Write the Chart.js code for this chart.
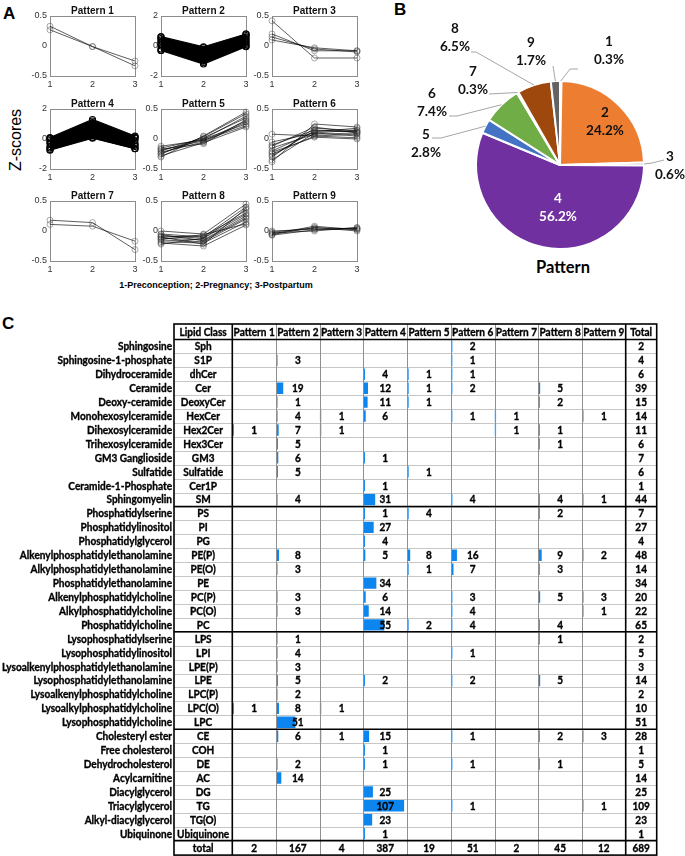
<!DOCTYPE html>
<html>
<head>
<meta charset="utf-8">
<title>Lipid class patterns</title>
<script src="https://cdn.jsdelivr.net/npm/chart.js@4.4.1/dist/chart.umd.min.js"></script>
<style>
  html, body { margin: 0; padding: 0; background: #fff; }
  body { position: relative; width: 685px; height: 856px; overflow: hidden; font-family: "Liberation Sans", Arial, sans-serif; color: #000; }
  canvas { position: absolute; }
  .tag { position: absolute; font-weight: bold; font-size: 17px; line-height: 1; }
  .mid { position: absolute; transform: translate(-50%, -50%); white-space: nowrap; line-height: 1; }
</style>
</head>
<body>
<div class="tag" style="left:3px;top:5px">A</div>
<div class="tag" style="left:394px;top:1px">B</div>
<div class="tag" style="left:2px;top:315px">C</div>
<div class="mid" style="left:16px;top:140px;font-size:16px;transform:translate(-50%,-50%) rotate(-90deg)">Z-scores</div>
<div class="mid" style="left:216px;top:285px;font-size:9px;font-weight:bold">1-Preconception; 2-Pregnancy; 3-Postpartum</div>
<div class="mid" style="left:563px;top:267px;font-family:Lato;font-weight:bold;font-size:16.5px">Pattern</div>
<canvas id="pie" width="345" height="300" style="left:340px;top:0"></canvas>
<canvas id="table" width="685" height="556" style="left:0;top:300px"></canvas>
<script>
// ---- panel A: z-score trajectories ----
const stageTicks = ['1', '2', '3'];
const patternNames = ['Pattern 1', 'Pattern 2', 'Pattern 3', 'Pattern 4', 'Pattern 5',
  'Pattern 6', 'Pattern 7', 'Pattern 8', 'Pattern 9'];
const zLimits = [0.5, 2, 0.5, 2, 0.5, 0.5, 0.5, 0.5, 0.5];

const pattern1 = [[0.33, -0.01, -0.33], [0.27, -0.01, -0.25]];
const pattern2 = [[0.5, -0.2, 0.6], [0.3, -0.5, 0.4], [0.1, -0.8, 0.2], [-0.2, -1.1, 0.0],
  [0.6, -0.3, 0.8], [0.0, -0.6, 0.5], [-0.3, -0.9, 0.1], [0.2, -0.1, 0.3], [0.4, -0.7, 0.7]];
const pattern2Upper = [0.62, -0.05, 0.8];
const pattern2Lower = [-0.3, -1.2, -0.05];
const pattern3 = [[0.42, -0.2, -0.2], [0.2, -0.08, -0.08], [0.15, -0.05, -0.1], [0.1, -0.03, -0.08]];
const pattern4 = [[0.05, 1.2, 0.1], [-0.2, 0.8, -0.1], [-0.5, 0.4, -0.4], [-0.7, 0.1, -0.65],
  [-0.3, 0.6, 0.15], [0.0, 0.3, -0.3], [-0.6, 1.0, -0.5], [-0.1, 0.2, 0.05]];
const pattern4Upper = [0.1, 1.3, 0.2];
const pattern4Lower = [-0.75, 0.05, -0.65];
const pattern5 = [[-0.12, -0.02, 0.22], [-0.15, 0.0, 0.25], [-0.18, -0.03, 0.3], [-0.2, 0.02, 0.35],
  [-0.22, -0.05, 0.28], [-0.25, 0.04, 0.42], [-0.28, -0.06, 0.2], [-0.3, 0.05, 0.45],
  [-0.17, -0.08, 0.32], [-0.24, 0.0, 0.38]];
const pattern6 = [[-0.05, 0.1, 0.15], [-0.1, 0.15, 0.12], [-0.15, 0.08, 0.1], [-0.2, 0.12, 0.18],
  [-0.25, 0.05, 0.08], [-0.3, 0.18, 0.14], [-0.35, 0.1, 0.05], [-0.38, 0.25, 0.2],
  [0.08, 0.05, 0.02], [-0.12, 0.2, 0.1], [-0.22, 0.03, 0.0], [-0.28, 0.14, 0.12]];
const pattern7 = [[0.18, 0.14, -0.31], [0.11, 0.08, -0.17]];
const pattern8 = [[0.0, -0.05, 0.45], [-0.05, -0.1, 0.4], [-0.08, -0.12, 0.35], [-0.1, -0.08, 0.3],
  [-0.12, -0.15, 0.25], [-0.15, -0.18, 0.2], [-0.18, -0.2, 0.15], [-0.2, -0.25, 0.1],
  [-0.22, -0.12, 0.28], [-0.1, -0.22, 0.38], [-0.14, -0.06, 0.12], [-0.06, -0.16, 0.22]];
const pattern9 = [[-0.02, 0.05, 0.04], [-0.05, 0.08, 0.02], [-0.07, 0.02, 0.05],
  [-0.03, 0.0, 0.06], [-0.06, 0.06, 0.0], [0.0, 0.03, 0.03]];

// ---- panel B / C: number of lipid species per pattern ----
const patternTotals = [2, 167, 4, 387, 19, 51, 2, 45, 12];
const pieKeys = ['1', '2', '3', '4', '5', '6', '7', '8', '9'];
const pieColors = ['#5B9BD5', '#ED7D31', '#A5A5A5', '#7030A0', '#4472C4', '#70AD47', '#264478', '#9E480E', '#636363'];

const lipidNames = ['Sphingosine', 'Sphingosine-1-phosphate', 'Dihydroceramide', 'Ceramide',
  'Deoxy-ceramide', 'Monohexosylceramide', 'Dihexosylceramide', 'Trihexosylceramide',
  'GM3 Ganglioside', 'Sulfatide', 'Ceramide-1-Phosphate', 'Sphingomyelin',
  'Phosphatidylserine', 'Phosphatidylinositol', 'Phosphatidylglycerol',
  'Alkenylphosphatidylethanolamine', 'Alkylphosphatidylethanolamine', 'Phosphatidylethanolamine',
  'Alkenylphosphatidylcholine', 'Alkylphosphatidylcholine', 'Phosphatidylcholine',
  'Lysophosphatidylserine', 'Lysophosphatidylinositol', 'Lysoalkenylphosphatidylethanolamine',
  'Lysophosphatidylethanolamine', 'Lysoalkenylphosphatidylcholine', 'Lysoalkylphosphatidylcholine',
  'Lysophosphatidylcholine', 'Cholesteryl ester', 'Free cholesterol', 'Dehydrocholesterol',
  'Acylcarnitine', 'Diacylglycerol', 'Triacylglycerol', 'Alkyl-diacylglycerol', 'Ubiquinone'];
const lipidAbbr = ['Sph', 'S1P', 'dhCer', 'Cer', 'DeoxyCer', 'HexCer', 'Hex2Cer', 'Hex3Cer',
  'GM3', 'Sulfatide', 'Cer1P', 'SM', 'PS', 'PI', 'PG', 'PE(P)', 'PE(O)', 'PE', 'PC(P)', 'PC(O)',
  'PC', 'LPS', 'LPI', 'LPE(P)', 'LPE', 'LPC(P)', 'LPC(O)', 'LPC', 'CE', 'COH', 'DE', 'AC', 'DG',
  'TG', 'TG(O)', 'Ubiquinone'];

const _ = null;
const countsP1 = [_,_,_,_,_,_,1,_,_,_,_,_,  _,_,_,_,_,_,_,_,_,  _,_,_,_,_,1,_,   _,_,_,_,_,_,_,_];
const countsP2 = [_,3,_,19,1,4,7,5,6,5,_,4, _,_,_,8,3,_,3,3,_,  1,4,3,5,2,8,51,  6,_,2,14,_,_,_,_];
const countsP3 = [_,_,_,_,_,1,1,_,_,_,_,_,  _,_,_,_,_,_,_,_,_,  _,_,_,_,_,1,_,   1,_,_,_,_,_,_,_];
const countsP4 = [_,_,4,12,11,6,_,_,1,_,1,31, 1,27,4,5,_,34,6,14,55, _,_,_,2,_,_,_, 15,1,1,_,25,107,23,1];
const countsP5 = [_,_,1,1,1,_,_,_,_,1,_,_,  4,_,_,8,1,_,_,_,2,  _,_,_,_,_,_,_,   _,_,_,_,_,_,_,_];
const countsP6 = [2,1,1,2,_,1,_,_,_,_,_,4,  _,_,_,16,7,_,3,4,4, _,1,_,2,_,_,_,   1,_,1,_,_,1,_,_];
const countsP7 = [_,_,_,_,_,1,1,_,_,_,_,_,  _,_,_,_,_,_,_,_,_,  _,_,_,_,_,_,_,   _,_,_,_,_,_,_,_];
const countsP8 = [_,_,_,5,2,_,1,1,_,_,_,4,  2,_,_,9,3,_,5,_,4,  1,_,_,5,_,_,_,   2,_,1,_,_,_,_,_];
const countsP9 = [_,_,_,_,_,1,_,_,_,_,_,1,  _,_,_,2,_,_,3,1,_,  _,_,_,_,_,_,_,   3,_,_,_,_,1,_,_];
const lipidTotals = [2,4,6,39,15,14,11,6,7,6,1,44, 7,27,4,48,14,34,20,22,65, 2,5,3,14,2,10,51, 28,1,5,14,25,109,23,1];

const panelLines = [pattern1, pattern2, pattern3, pattern4, pattern5, pattern6, pattern7, pattern8, pattern9];
const panelBands = [null, [pattern2Upper, pattern2Lower], null, [pattern4Upper, pattern4Lower], null, null, null, null, null];
const patternCounts = [countsP1, countsP2, countsP3, countsP4, countsP5, countsP6, countsP7, countsP8, countsP9];

Chart.defaults.font.family = '"Liberation Sans", Arial, sans-serif';
Chart.defaults.animation = false;

// ---------- panel A ----------
const plotLefts = [50, 161, 272];
const plotTops = [16, 109, 201];

const matlabBox = {
  id: 'matlabBox',
  beforeDatasetsDraw(chart) {
    const {ctx, chartArea: a} = chart;
    ctx.save();
    ctx.strokeStyle = '#8c8c8c';
    ctx.lineWidth = 1;
    ctx.strokeRect(Math.round(a.left) + 0.5, Math.round(a.top) + 0.5, Math.round(a.width), Math.round(a.height));
    ctx.restore();
  },
  afterDraw(chart, args, opts) {
    const {ctx, chartArea: a} = chart;
    ctx.save();
    ctx.font = 'bold 10px "Liberation Sans"';
    ctx.fillStyle = '#111';
    ctx.textAlign = 'center';
    ctx.fillText(opts.title, (a.left + a.right) / 2, a.top - 2.5);
    ctx.restore();
  }
};

function lineSet(values, dark) {
  return {
    data: values,
    borderColor: dark ? '#000' : 'rgba(0,0,0,0.8)',
    borderWidth: dark ? 1.2 : 0.8,
    pointRadius: 3,
    pointBorderWidth: dark ? 1.2 : 0.8,
    pointBorderColor: dark ? '#000' : 'rgba(60,60,60,0.55)',
    pointBackgroundColor: 'rgba(0,0,0,0)',
    fill: false,
    clip: false,
    tension: 0
  };
}

panelLines.forEach((lines, k) => {
  const cv = document.createElement('canvas');
  cv.width = 133;
  cv.height = 96;
  cv.style.left = (plotLefts[k % 3] - 40) + 'px';
  cv.style.top = (plotTops[Math.floor(k / 3)] - 16) + 'px';
  document.body.appendChild(cv);

  const band = panelBands[k];
  const sets = [];
  if (band) {
    sets.push(lineSet(band[0], true));
    sets.push(Object.assign(lineSet(band[1], true), {fill: '-1', backgroundColor: '#000'}));
  }
  lines.forEach(v => sets.push(lineSet(v, !!band)));

  const lim = zLimits[k];
  new Chart(cv, {
    type: 'line',
    data: {labels: stageTicks, datasets: sets},
    options: {
      responsive: false,
      layout: {padding: {top: 16, right: 8, left: 0, bottom: 0}},
      plugins: {legend: {display: false}, tooltip: {enabled: false}, matlabBox: {title: patternNames[k]}},
      scales: {
        x: {
          type: 'category', offset: false,
          grid: {display: false, drawTicks: false}, border: {display: false},
          ticks: {font: {size: 9}, color: '#333', padding: 3, maxRotation: 0, autoSkip: false},
          afterFit: s => { s.height = 20; }
        },
        y: {
          min: -lim, max: lim,
          grid: {display: false, drawTicks: false}, border: {display: false},
          ticks: {stepSize: lim, font: {size: 9}, color: '#333', padding: 3},
          afterFit: s => { s.width = 40; }
        }
      }
    },
    plugins: [matlabBox]
  });
});

// ---------- panel B ----------
const PIE_LEFT = 340, PIE_TOP = 0;
const pieLabelAt = [[609, 42], [605, 113], [670, 157], [558, 199], [426, 135], [432, 94], [473, 72], [455, 29], [531, 43]];
const pieLeaderVia = [[[570, 69], [578, 69]], null, [[652, 163], [664, 160]], null,
  [[441, 138], [432, 138]], [[457, 116], [449, 116]], [[489, 94]], [[476, 52], [471, 52]], [[553, 66]]];

const pieLabels = {
  id: 'pieLabels',
  afterDatasetsDraw(chart) {
    const ctx = chart.ctx;
    const arcs = chart.getDatasetMeta(0).data;
    const sum = patternTotals.reduce((s, v) => s + v, 0);
    ctx.save();
    arcs.forEach((arc, i) => {
      const via = pieLeaderVia[i];
      if (via) {
        const mid = (arc.startAngle + arc.endAngle) / 2;
        ctx.strokeStyle = '#a6a6a6';
        ctx.lineWidth = 1;
        ctx.beginPath();
        ctx.moveTo(arc.x + Math.cos(mid) * arc.outerRadius, arc.y + Math.sin(mid) * arc.outerRadius);
        via.forEach(p => ctx.lineTo(p[0] - PIE_LEFT, p[1] - PIE_TOP));
        ctx.stroke();
      }
      const lx = pieLabelAt[i][0] - PIE_LEFT, ly = pieLabelAt[i][1] - PIE_TOP;
      ctx.fillStyle = i === 3 ? '#fff' : '#111';
      ctx.font = 'bold 13.5px Lato';
      ctx.textAlign = 'center';
      ctx.textBaseline = 'middle';
      ctx.fillText(pieKeys[i], lx, ly);
      ctx.fillText((patternTotals[i] / sum * 100).toFixed(1) + '%', lx, ly + 18);
    });
    ctx.restore();
  }
};

new Chart(document.getElementById('pie'), {
  type: 'pie',
  data: {
    labels: pieKeys,
    datasets: [{data: patternTotals, backgroundColor: pieColors, borderColor: '#fff', borderWidth: 2}]
  },
  options: {
    responsive: false,
    radius: 84,
    layout: {padding: {left: 130, top: 75, right: 35, bottom: 45}},
    plugins: {legend: {display: false}, tooltip: {enabled: false}}
  },
  plugins: [pieLabels]
});

// ---------- panel C ----------
const TABLE_LEFT = 174, NAME_RIGHT = 172, HEADER_H = 15.5, TOTAL_H = 14.5, TOTAL_W = 31;
const groupStarts = [12, 21, 28];
const BAR_MAX = 115;
const TABLE_FONT = 'bold 11px Lato';

const xScales = {};
patternNames.forEach((n, k) => {
  xScales['x' + (k + 1)] = {
    type: 'linear', axis: 'x', position: 'bottom', stack: 'cols', stackWeight: 1,
    min: 0, max: BAR_MAX, display: false
  };
});

const tableGrid = {
  id: 'tableGrid',
  afterDatasetsDraw(chart) {
    const {ctx, chartArea: a, scales} = chart;
    const n = lipidAbbr.length, rowH = a.height / n;
    const top = a.top - HEADER_H, bottom = a.bottom + TOTAL_H;
    const left = TABLE_LEFT, right = a.right + TOTAL_W;
    const px = v => Math.round(v) + 0.5;
    const line = (x1, y1, x2, y2) => { ctx.beginPath(); ctx.moveTo(x1, y1); ctx.lineTo(x2, y2); ctx.stroke(); };
    ctx.save();
    ctx.lineWidth = 1;
    ctx.strokeStyle = '#c6c6c6';
    for (let r = 1; r < n; r++) { const y = px(a.top + r * rowH); line(left, y, right, y); }
    ctx.strokeStyle = '#8f8f8f';
    for (let k = 2; k <= patternNames.length; k++) { const x = px(scales['x' + k].left); line(x, top, x, bottom); }
    ctx.strokeStyle = '#000';
    ctx.lineWidth = 1.6;
    ctx.strokeRect(left, top, right - left, bottom - top);
    [a.top, a.bottom].concat(groupStarts.map(g => a.top + g * rowH)).forEach(y => line(left, y, right, y));
    [a.left, a.right].forEach(x => line(x, top, x, bottom));
    ctx.restore();
  },
  afterDraw(chart) {
    const {ctx, chartArea: a, scales} = chart;
    ctx.save();
    ctx.font = TABLE_FONT;
    ctx.fillStyle = '#000';
    ctx.strokeStyle = '#000';
    ctx.lineWidth = 0.35;
    const squeeze = Math.min(1, 170 / ctx.measureText('Lysoalkenylphosphatidylethanolamine').width);
    const put = (t, x, y, align) => {
      ctx.save(); ctx.translate(x, y); ctx.scale(squeeze, 1); ctx.textAlign = align;
      ctx.fillText(t, 0, 0); ctx.strokeText(t, 0, 0); ctx.restore();
    };
    const cols = patternNames.map((n, k) => scales['x' + (k + 1)]);
    const colMid = k => (cols[k].left + cols[k].right) / 2;
    const abbrX = (TABLE_LEFT + a.left) / 2, totX = a.right + TOTAL_W / 2;
    const base = 3.9;
    const hy = a.top - HEADER_H / 2 + base;
    put('Lipid Class', abbrX, hy, 'center');
    patternNames.forEach((n, k) => put(n, colMid(k), hy, 'center'));
    put('Total', totX, hy, 'center');
    lipidAbbr.forEach((ab, r) => {
      const y = scales.y.getPixelForValue(r) + base;
      put(lipidNames[r], NAME_RIGHT, y, 'right');
      put(ab, abbrX, y, 'center');
      patternCounts.forEach((vals, k) => { if (vals[r] != null) put(String(vals[r]), colMid(k), y, 'center'); });
      put(String(lipidTotals[r]), totX, y, 'center');
    });
    const ty = a.bottom + TOTAL_H / 2 + base;
    put('total', abbrX, ty, 'center');
    patternTotals.forEach((v, k) => put(String(v), colMid(k), ty, 'center'));
    put(String(patternTotals.reduce((s, v) => s + v, 0)), totX, ty, 'center');
    ctx.restore();
  }
};

new Chart(document.getElementById('table'), {
  type: 'bar',
  data: {
    labels: lipidAbbr,
    datasets: patternCounts.map((vals, k) => ({
      label: patternNames[k],
      data: vals,
      xAxisID: 'x' + (k + 1),
      backgroundColor: '#0c86ee',
      borderWidth: 0,
      barPercentage: 0.82,
      categoryPercentage: 1,
      grouped: false,
      minBarLength: 1.5
    }))
  },
  options: {
    indexAxis: 'y',
    responsive: false,
    layout: {padding: {left: 232.3, right: 59.3, top: 39.5, bottom: 15.4}},
    plugins: {legend: {display: false}, tooltip: {enabled: false}},
    scales: Object.assign({y: {type: 'category', display: false, offset: true}}, xScales)
  },
  plugins: [tableGrid]
});
</script>
</body>
</html>
